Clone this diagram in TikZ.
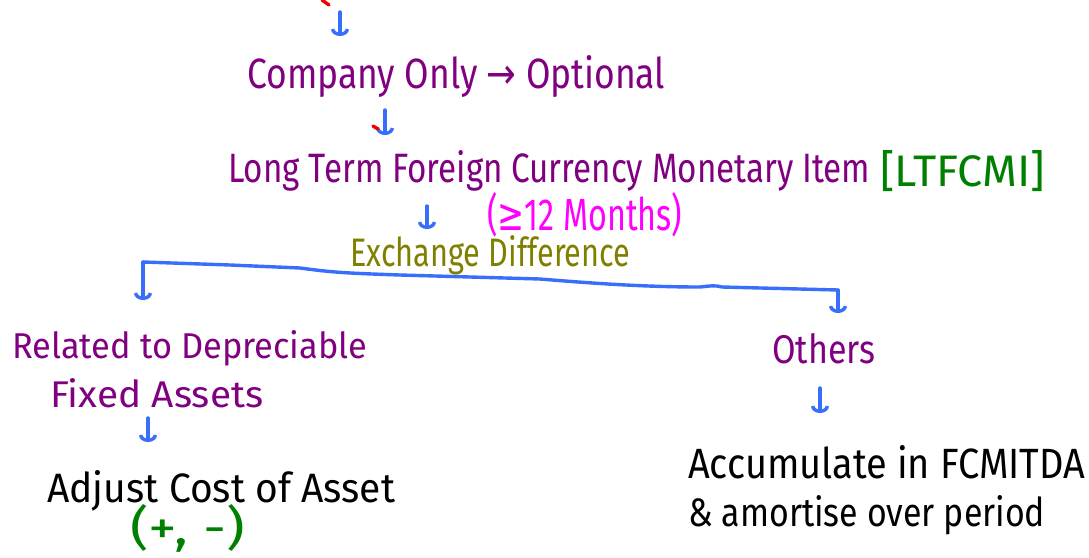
\documentclass[tikz,border=0pt]{standalone}
\usepackage{fontspec}
\setmainfont{Fira Sans}
\newfontfamily\symf{DejaVu Sans}
\usepackage{graphicx}
\usetikzlibrary{arrows.meta}
\definecolor{hpurple}{RGB}{128,0,128}
\definecolor{holive}{RGB}{128,128,0}
\definecolor{hmag}{RGB}{255,0,255}
\definecolor{hgreen}{RGB}{0,128,0}
\definecolor{hblue}{RGB}{55,110,250}
\definecolor{hred}{RGB}{240,0,0}
\newcommand{\fitwh}[3]{\resizebox{#1}{#2}{#3}}
\begin{document}
\begin{tikzpicture}[x=1pt,y=-1pt,
  txt/.style={inner sep=0pt, anchor=base west},
  pen/.style={line width=3.4pt, line cap=round, line join=round},
  harrow/.style={pen, hblue, -{Arc Barb[length=7pt,width=18pt]}}]
\useasboundingbox (0,0) rectangle (1089,557);
\fill[white] (0,0) rectangle (1089,557);

% texts
\node[txt, text=hpurple] (company) at (247,88) {\fitwh{418pt}{33pt}{Company Only {\symf→} Optional}};
\node[txt, text=hpurple] (ltfcmi) at (228,182) {\fitwh{642pt}{32pt}{Long Term Foreign Currency Monetary Item}};
\node[txt, text=hgreen] (abbr) at (880,186) {\fitwh{165pt}{36pt}{[LTFCMI]}};
\node[txt, text=hmag] (months) at (487,230) {\fitwh{195pt}{38pt}{({\symf≥}12 Months)}};
\node[txt, text=holive] (exch) at (350,266) {\fitwh{280pt}{31pt}{Exchange Difference}};
\node[txt, text=hpurple] (related) at (12,358) {\fitwh{355pt}{28pt}{Related to Depreciable}};
\node[txt, text=hpurple] (fixed) at (50,407) {\fitwh{213pt}{29pt}{Fixed Assets}};
\node[txt, text=hpurple] (others) at (772,363) {\fitwh{103pt}{30pt}{Others}};
\node[txt, text=black] (adjust) at (47,502) {\fitwh{348pt}{32pt}{Adjust Cost of Asset}};
\node[txt, text=hgreen] (sign) at (130,544) {\fitwh{115pt}{40pt}{(+, -)}};
\node[txt, text=black] (accum) at (688,478) {\fitwh{397pt}{33pt}{Accumulate in FCMITDA}};
\node[txt, text=black] (amort) at (688,526) {\fitwh{357pt}{31pt}{\& amortise over period}};

% arrow end points
\coordinate (a1s) at (340,12);  \coordinate (a1e) at (340,36);
\coordinate (a2s) at (385,110); \coordinate (a2e) at (385,135);
\coordinate (a3s) at (427,206); \coordinate (a3e) at (427,229);
\coordinate (bl) at (143,262);  \coordinate (ble) at (143,300);
\coordinate (br) at (838,290);  \coordinate (bre) at (838,313);
\coordinate (a5s) at (148,418); \coordinate (a5e) at (148,442);
\coordinate (a7s) at (820,388); \coordinate (a7e) at (820,413);

\draw[harrow] (a1s) -- (a1e);
\draw[harrow] (a2s) -- (a2e);
\draw[harrow] (a3s) -- (a3e);
\draw[pen, hblue] (bl) -- (230,265) -- (300,268) .. controls (330,272) and (340,273) .. (400,275)
   -- (540,279) .. controls (600,284) and (650,287) .. (700,287) .. controls (710,286) and (715,285) .. (722,287) -- (br);
\draw[harrow] (bl) -- (ble);
\draw[harrow] (br) -- (bre);
\draw[harrow] (a5s) -- (a5e);
\draw[harrow] (a7s) -- (a7e);

% red pen marks
\draw[pen, hred] (322,0) -- (329,5);
\draw[pen, hred] (373,126) -- (378,129);
\end{tikzpicture}
\end{document}
